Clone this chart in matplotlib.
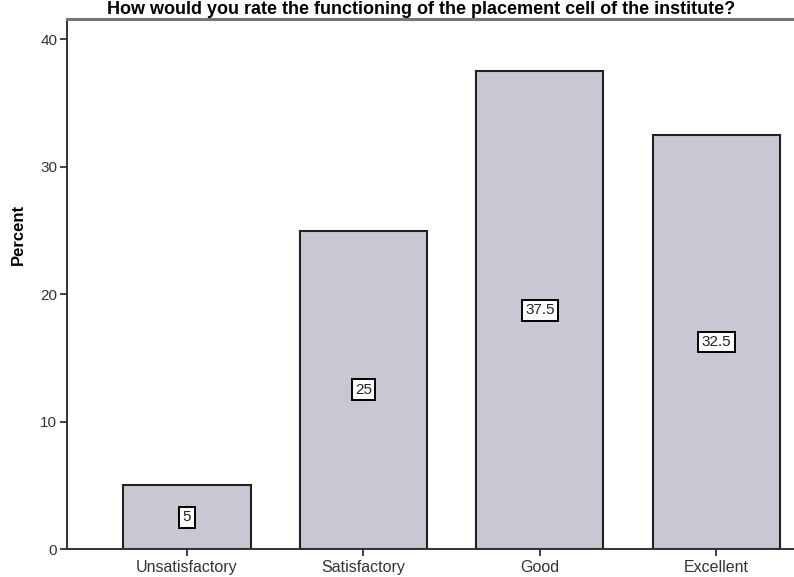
import matplotlib
matplotlib.use("Agg")
from matplotlib import pyplot as plt

# Placement cell rating data
categories = ["Unsatisfactory", "Satisfactory", "Good", "Excellent"]
percents = [5, 25, 37.5, 32.5]
labels = ["5", "25", "37.5", "32.5"]

plt.rcParams['font.family'] = ['Liberation Sans', 'DejaVu Sans']

fig = plt.figure(figsize=(7.94, 5.77), dpi=100)
ax = fig.add_axes([0.0844, 0.0485, 0.9156, 0.9185])

xs = list(range(len(categories)))
ax.bar(xs, percents, width=0.72, color='#cac6d2', edgecolor='#222222', linewidth=1.5)

# value boxes in the middle of each bar
for x, v, lab in zip(xs, percents, labels):
    ax.text(x, v / 2, lab, ha='center', va='center', fontsize=11, color='#222222',
            bbox=dict(boxstyle='square,pad=0.22', facecolor='white', edgecolor='black', linewidth=1.4))

ax.set_xlim(-0.68, 3.44)
ax.set_ylim(0, 41.6)
ax.set_yticks([0, 10, 20, 30, 40])
ax.set_xticks(xs)
ax.set_xticklabels(categories)
ax.tick_params(axis='both', direction='out', length=5, width=1.3, labelsize=11, colors='#333333')
ax.tick_params(axis='x', pad=3, labelsize=11.5)
ax.tick_params(axis='y', pad=2)
ax.set_ylabel("Percent", fontsize=12, fontweight='bold')
ax.yaxis.set_label_coords(-0.057, 0.593)

for s in ['left', 'bottom']:
    ax.spines[s].set_linewidth(1.4)
    ax.spines[s].set_color('#333333')
ax.spines['top'].set_color('#777777')
ax.spines['top'].set_linewidth(2.2)
ax.spines['right'].set_visible(False)

fig.text(0.53, 0.999, "How would you rate the functioning of the placement cell of the institute?",
         ha='center', va='top', fontsize=13, fontweight='bold')

fig.savefig("out.png", dpi=100)
